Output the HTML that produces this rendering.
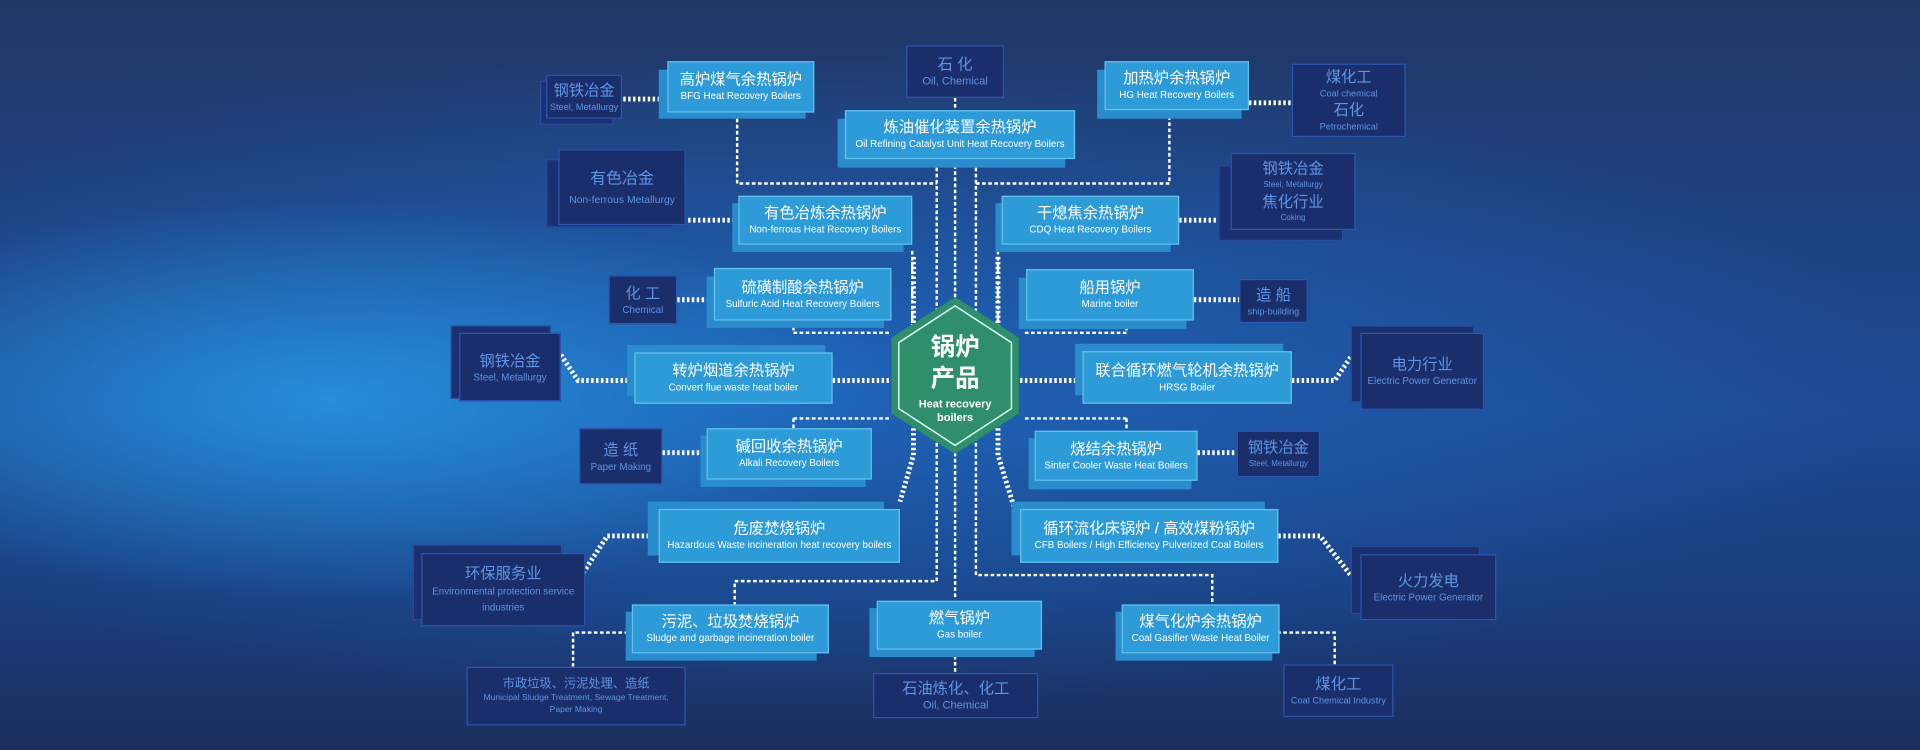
<!DOCTYPE html>
<html><head><meta charset="utf-8"><style>
html,body{margin:0;padding:0;width:1920px;height:750px;overflow:hidden;background:#1c3a78}
#bg{position:absolute;left:0;top:0;width:1920px;height:750px;
background:
radial-gradient(ellipse 560px 200px at 330px 400px, rgba(40,160,235,0.75), rgba(40,140,225,0) 100%),
radial-gradient(ellipse 1100px 330px at 800px 380px, rgba(30,110,200,0.7), rgba(30,100,190,0) 100%),
linear-gradient(180deg,#213766 0%,#1e4486 35%,#1d4a92 55%,#1a3d7c 80%,#1b2f5e 100%);}
#s{position:absolute;left:0;top:0;width:1568px;height:613px;transform-origin:0 0;transform:scale(1.22449,1.22349);font-family:"Liberation Sans","Noto Sans CJK SC",sans-serif}
.b{position:absolute;background:#2e9bd9;border:1.5px solid #62c2ef;color:#fff;text-align:center;box-sizing:border-box;display:flex;flex-direction:column;justify-content:center;align-items:center}
.sh{position:absolute;background:#2a8ccd;}
.b .c{font-size:12.5px;line-height:16px}
.b .e{font-size:8px;line-height:12px}
.n{position:absolute;background:#1a2e6c;border:1.5px solid #2d56b0;color:#5f95e2;text-align:center;box-sizing:border-box;display:flex;flex-direction:column;justify-content:center;align-items:center}
.nsh{position:absolute;background:#1a3070;border:1.5px solid #2a4d9e;box-sizing:border-box}
.n .c{font-size:12.5px;line-height:16px}
.n .e{font-size:7.5px;line-height:11px}
svg{position:absolute;left:0;top:0}
</style></head><body><div id="bg"></div>
<div id="s">
<svg width="1568" height="613">
<g stroke="#fff" fill="none" stroke-width="2" stroke-dasharray="3 2">
<path d="M780 80 V490 M780 531 V550"/>
<path d="M765 137 V475 H600 V494"/>
<path d="M797 137 V470 H990 V494"/>
<path d="M602 97 V150 H765 M955 90 V150 H797"/>
<path d="M745 205 V280 M815 205 V280"/>
<path d="M648 262 V272 H728 M920 262 V272 H835"/>
<path d="M648 342 V350 M648 342 H728 M920 342 V352 M920 342 H835"/>
<path d="M468 545 V517 H516 M1090 543 V517 H1045"/>
</g>
<g stroke="#fff" fill="none" stroke-width="4" stroke-dasharray="2 2">
<path d="M746 210 V290 M815 210 V290"/>
<path d="M746 330 V372 L735 410 M815 330 V372 L828 414"/>
<path d="M509 81 H538 M1020 84 H1055 M562 180 H600 M963 180 H995"/>
<path d="M553 245 H582 M975 245 H1012 M458 290 L472 311 H518 M680 311 H727 M833 311 H884 M1055 311 H1090 L1103 292"/>
<path d="M541 370 H577 M978 370 H1010 M530 438 H496 L475 470 M1044 438 H1078 L1103 470"/>
</g>
</svg>

<div class="nsh" style="left:441px;top:66px;width:60px;height:36px"></div>
<div class="n" style="left:446px;top:61px;width:62px;height:36px"><div class="c">钢铁冶金</div><div class="e">Steel, Metallurgy</div></div>
<div class="sh" style="left:538px;top:57px;width:120px;height:40px"></div>
<div class="b" style="left:545px;top:50px;width:120px;height:42px"><div class="c">高炉煤气余热锅炉</div><div class="e">BFG Heat Recovery Boilers</div></div>
<div class="n" style="left:740px;top:37px;width:80px;height:43px"><div class="c">石 化</div><div class="e" style="font-size:9px">Oil, Chemical</div></div>
<div class="sh" style="left:684px;top:97px;width:186px;height:40px"></div>
<div class="b" style="left:690px;top:90px;width:188px;height:40px"><div class="c">炼油催化装置余热锅炉</div><div class="e">Oil Refining Catalyst Unit Heat Recovery Boilers</div></div>
<div class="sh" style="left:896px;top:57px;width:118px;height:40px"></div>
<div class="b" style="left:902px;top:50px;width:118px;height:40px"><div class="c">加热炉余热锅炉</div><div class="e">HG Heat Recovery Boilers</div></div>
<div class="n" style="left:1055px;top:52px;width:93px;height:60px"><div class="c">煤化工</div><div class="e">Coal chemical</div><div class="c">石化</div><div class="e">Petrochemical</div></div>

<div class="nsh" style="left:446px;top:130px;width:104px;height:56px"></div>
<div class="n" style="left:456px;top:122px;width:104px;height:62px"><div class="c" style="font-size:13px">有色冶金</div><div class="e" style="font-size:8.5px;margin-top:4px">Non-ferrous Metallurgy</div></div>
<div class="sh" style="left:598px;top:166px;width:140px;height:40px"></div>
<div class="b" style="left:603px;top:160px;width:142px;height:40px"><div class="c">有色冶炼余热锅炉</div><div class="e">Non-ferrous Heat Recovery Boilers</div></div>
<div class="sh" style="left:813px;top:166px;width:143px;height:40px"></div>
<div class="b" style="left:818px;top:160px;width:145px;height:40px"><div class="c">干熄焦余热锅炉</div><div class="e">CDQ Heat Recovery Boilers</div></div>
<div class="nsh" style="left:995px;top:135px;width:102px;height:62px"></div>
<div class="n" style="left:1005px;top:125px;width:102px;height:63px"><div class="c">钢铁冶金</div><div class="e" style="font-size:6.5px">Steel, Metallurgy</div><div class="c">焦化行业</div><div class="e" style="font-size:6.5px">Coking</div></div>

<div class="n" style="left:497px;top:225px;width:56px;height:40px"><div class="c">化 工</div><div class="e" style="font-size:8px">Chemical</div></div>
<div class="sh" style="left:577px;top:226px;width:145px;height:42px"></div>
<div class="b" style="left:583px;top:219px;width:145px;height:43px"><div class="c">硫磺制酸余热锅炉</div><div class="e">Sulfuric Acid Heat Recovery Boilers</div></div>
<div class="sh" style="left:832px;top:227px;width:137px;height:42px"></div>
<div class="b" style="left:838px;top:220px;width:137px;height:42px"><div class="c">船用锅炉</div><div class="e">Marine boiler</div></div>
<div class="n" style="left:1012px;top:228px;width:56px;height:36px"><div class="c">造 船</div><div class="e">ship-building</div></div>

<div class="nsh" style="left:368px;top:266px;width:82px;height:60px"></div>
<div class="n" style="left:375px;top:272px;width:83px;height:56px"><div class="c">钢铁冶金</div><div class="e" style="font-size:8px">Steel, Metallurgy</div></div>
<div class="sh" style="left:512px;top:282px;width:162px;height:42px"></div>
<div class="b" style="left:518px;top:288px;width:162px;height:42px"><div class="c">转炉烟道余热锅炉</div><div class="e">Convert flue waste heat boiler</div></div>
<div class="sh" style="left:878px;top:281px;width:170px;height:42px"></div>
<div class="b" style="left:884px;top:287px;width:171px;height:43px"><div class="c">联合循环燃气轮机余热锅炉</div><div class="e">HRSG Boiler</div></div>
<div class="nsh" style="left:1103px;top:266px;width:101px;height:63px"></div>
<div class="n" style="left:1111px;top:272px;width:101px;height:63px"><div class="c">电力行业</div><div class="e" style="font-size:8px">Electric Power Generator</div></div>

<div class="n" style="left:473px;top:350px;width:68px;height:46px"><div class="c">造 纸</div><div class="e" style="font-size:8px">Paper Making</div></div>
<div class="sh" style="left:572px;top:356px;width:135px;height:42px"></div>
<div class="b" style="left:577px;top:350px;width:135px;height:42px"><div class="c">碱回收余热锅炉</div><div class="e">Alkali Recovery Boilers</div></div>
<div class="sh" style="left:840px;top:358px;width:133px;height:42px"></div>
<div class="b" style="left:845px;top:352px;width:133px;height:41px"><div class="c">烧结余热锅炉</div><div class="e">Sinter Cooler Waste Heat Boilers</div></div>
<div class="n" style="left:1010px;top:352px;width:68px;height:38px"><div class="c">钢铁冶金</div><div class="e" style="font-size:6.5px">Steel, Metallurgy</div></div>

<div class="sh" style="left:529px;top:410px;width:193px;height:44px"></div>
<div class="b" style="left:538px;top:416px;width:197px;height:44px"><div class="c">危废焚烧锅炉</div><div class="e">Hazardous Waste incineration heat recovery boilers</div></div>
<div class="sh" style="left:826px;top:410px;width:207px;height:44px"></div>
<div class="b" style="left:833px;top:416px;width:211px;height:44px"><div class="c">循环流化床锅炉 / 高效煤粉锅炉</div><div class="e">CFB Boilers / High Efficiency Pulverized Coal Boilers</div></div>
<div class="nsh" style="left:337px;top:445px;width:122px;height:62px"></div>
<div class="n" style="left:344px;top:452px;width:134px;height:60px"><div class="c">环保服务业</div><div class="e" style="font-size:8px;line-height:13px">Environmental protection service<br>industries</div></div>
<div class="nsh" style="left:1103px;top:446px;width:106px;height:56px"></div>
<div class="n" style="left:1111px;top:453px;width:111px;height:54px"><div class="c">火力发电</div><div class="e" style="font-size:8px">Electric Power Generator</div></div>

<div class="sh" style="left:511px;top:500px;width:156px;height:40px"></div>
<div class="b" style="left:516px;top:494px;width:161px;height:40px"><div class="c">污泥、垃圾焚烧锅炉</div><div class="e">Sludge and garbage incineration boiler</div></div>
<div class="sh" style="left:710px;top:497px;width:135px;height:40px"></div>
<div class="b" style="left:716px;top:491px;width:135px;height:40px"><div class="c">燃气锅炉</div><div class="e">Gas boiler</div></div>
<div class="sh" style="left:911px;top:500px;width:128px;height:40px"></div>
<div class="b" style="left:916px;top:494px;width:129px;height:40px"><div class="c">煤气化炉余热锅炉</div><div class="e">Coal Gasifier Waste Heat Boiler</div></div>
<div class="n" style="left:381px;top:545px;width:179px;height:48px"><div class="c" style="font-size:10px;line-height:13px">市政垃圾、污泥处理、造纸</div><div class="e" style="font-size:7px;line-height:10px">Municipal Sludge Treatment, Sewage Treatment,<br>Paper Making</div></div>
<div class="n" style="left:713px;top:550px;width:135px;height:37px"><div class="c">石油炼化、化工</div><div class="e" style="font-size:9px">Oil, Chemical</div></div>
<div class="n" style="left:1048px;top:543px;width:90px;height:43px"><div class="c">煤化工</div><div class="e" style="font-size:7.5px">Coal Chemical Industry</div></div>

<svg width="1568" height="613">
<polygon points="780,243 832,276 832,338 780,371 728,338 728,276" fill="#2e8f6a"/>
<polygon points="780,250 826,280 826,334 780,364 734,334 734,280" fill="none" stroke="#dff" stroke-width="1.2"/>
<text x="780" y="290" fill="#fff" font-size="20" font-weight="bold" text-anchor="middle" font-family="Noto Sans CJK SC,sans-serif">锅炉</text>
<text x="780" y="316" fill="#fff" font-size="20" font-weight="bold" text-anchor="middle" font-family="Noto Sans CJK SC,sans-serif">产品</text>
<text x="780" y="333" fill="#fff" font-size="9" font-weight="bold" text-anchor="middle" font-family="Liberation Sans,sans-serif">Heat recovery</text>
<text x="780" y="344" fill="#fff" font-size="9" font-weight="bold" text-anchor="middle" font-family="Liberation Sans,sans-serif">boilers</text>
</svg>
</div>
</body></html>
